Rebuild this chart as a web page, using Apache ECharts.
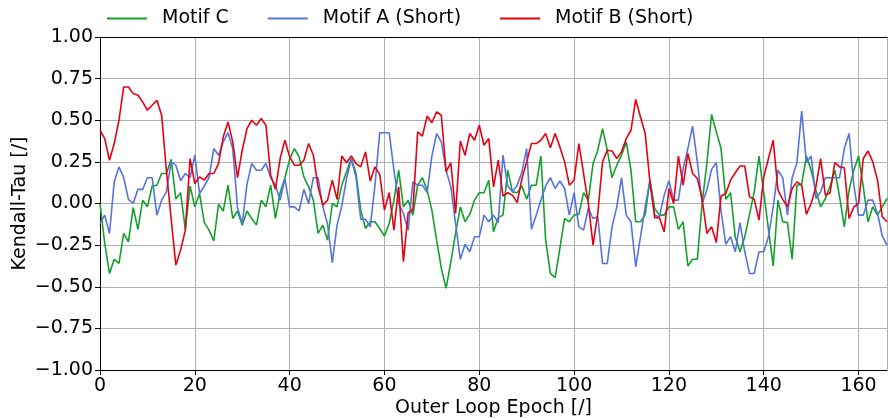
<!DOCTYPE html>
<html>
<head>
<meta charset="utf-8">
<script src="https://cdn.jsdelivr.net/npm/echarts@6/dist/echarts.min.js"></script>
<style>
  html, body { margin: 0; padding: 0; background: #fff; }
  #chart { width: 888px; height: 418px; }
</style>
</head>
<body>
<div id="chart"></div>
<script>
// Kendall-Tau per outer loop epoch, three motifs
const seriesNames = ['Motif C', 'Motif A (Short)', 'Motif B (Short)']
const seriesColors = ['#14a02c', '#5673e0', '#e60012']
const xTicks = [0, 20, 40, 60, 80, 100, 120, 140, 160]
const yTicks = [-1, -0.75, -0.5, -0.25, 0, 0.25, 0.5, 0.75, 1]

// Motif C (green)
const motifC = [
  0.0, -0.24, -0.42, -0.335, -0.36, -0.18, -0.23, -0.025, -0.155, 0.02,
  -0.02, 0.105, 0.11, 0.18, 0.18, 0.265, 0.027, 0.065, -0.155, 0.105,
  -0.02, 0.06, -0.115, -0.16, -0.225, -0.005, -0.045, 0.11, -0.09, -0.045,
  -0.13, -0.045, -0.09, -0.13, 0.02, -0.02, 0.11, -0.09, 0.065, 0.155,
  0.265, 0.33, 0.28, 0.16, 0.10, 0.02, -0.18, -0.13, -0.22, 0.0,
  -0.02, 0.11, 0.19, 0.27, 0.18, -0.04, -0.15, -0.11, -0.11, -0.15,
  -0.195, -0.12, 0.02, 0.20, -0.02, 0.02, -0.07, 0.11, 0.155, 0.08,
  -0.04, -0.22, -0.39, -0.51, -0.35, -0.18, -0.02, -0.11, -0.065, 0.02,
  0.065, 0.065, 0.14, -0.17, -0.085, -0.07, 0.20, 0.07, 0.065, 0.105,
  0.025, 0.11, 0.11, 0.285, -0.22, -0.42, -0.445, -0.27, -0.09, -0.11,
  -0.07, -0.065, 0.065, 0.02, 0.24, 0.32, 0.45, 0.32, 0.155, 0.23,
  0.29, 0.37, 0.20, -0.11, -0.11, -0.065, 0.14, -0.03, -0.07, -0.07,
  -0.02, -0.02, -0.155, -0.11, -0.375, -0.335, -0.335, 0.0, 0.24, 0.535,
  0.43, 0.33, 0.025, 0.065, -0.20, -0.29, -0.20, -0.065, 0.07, 0.285,
  0.065, -0.155, -0.375, 0.02, -0.11, -0.115, -0.335, 0.11, 0.115, 0.285,
  0.20, 0.08, -0.02, 0.03, 0.105, 0.20, 0.04, -0.14, 0.08, 0.20,
  0.285, 0.10, -0.11, -0.02, -0.07, -0.02, 0.03
]

// Motif A (Short) (blue)
const motifA = [
  -0.12, -0.07, -0.18, 0.13, 0.22, 0.155, 0.025, 0.0, 0.085, 0.085,
  0.155, 0.155, -0.07, 0.02, 0.07, 0.25, 0.23, 0.137, 0.18, 0.155,
  0.29, 0.06, 0.105, 0.155, 0.33, 0.29, 0.37, 0.425, 0.33, -0.025,
  -0.12, 0.115, 0.24, 0.20, 0.20, 0.24, 0.155, 0.11, 0.02, 0.15,
  -0.02, -0.02, -0.045, 0.085, 0.0, 0.155, 0.155, -0.02, -0.125, -0.355,
  -0.13, -0.015, 0.15, 0.265, 0.16, -0.095, -0.095, -0.14, 0.11, 0.425,
  0.425, 0.425, 0.20, 0.0, -0.06, -0.16, 0.13, 0.11, 0.11, 0.065,
  0.285, 0.42, 0.37, 0.20, 0.10, -0.12, -0.335, -0.245, -0.29, -0.20,
  -0.20, -0.07, -0.11, -0.07, -0.115, 0.29, 0.105, 0.07, 0.11, 0.19,
  0.33, -0.155, -0.07, 0.02, 0.105, 0.155, 0.09, 0.135, 0.09, -0.07,
  0.065, -0.14, -0.16, -0.03, -0.09, -0.08, -0.36, -0.36, -0.14, -0.02,
  0.155, -0.07, -0.11, -0.38, -0.20, -0.02, 0.14, -0.07, -0.08, 0.05,
  0.137, 0.02, 0.02, 0.21, 0.33, 0.465, 0.25, 0.0, 0.08, 0.205,
  0.245, -0.045, -0.245, -0.20, -0.29, -0.115, -0.29, -0.42, -0.42, -0.29,
  -0.29, -0.20, -0.02, 0.20, 0.155, -0.07, 0.155, 0.245, 0.555, 0.245,
  0.285, 0.03, 0.07, 0.155, 0.155, 0.155, 0.155, 0.33, 0.42, 0.11,
  -0.07, -0.07, 0.02, 0.02, -0.06, -0.195, -0.25
]

// Motif B (Short) (red)
const motifB = [
  0.44, 0.39, 0.26, 0.36, 0.50, 0.70, 0.70, 0.66, 0.65, 0.61,
  0.56, 0.59, 0.62, 0.53, 0.20, -0.09, -0.37, -0.28, -0.16, 0.27,
  0.12, 0.16, 0.14, 0.18, 0.18, 0.24, 0.40, 0.49, 0.37, 0.155,
  0.32, 0.45, 0.50, 0.47, 0.51, 0.47, 0.17, 0.085, 0.27, 0.38,
  0.28, 0.23, 0.23, 0.26, 0.36, 0.29, 0.10, -0.01, 0.02, 0.14,
  0.025, 0.285, 0.245, 0.285, 0.24, 0.22, 0.31, 0.135, 0.22, 0.175,
  -0.04, 0.065, -0.16, 0.10, -0.35, -0.055, -0.04, 0.43, 0.405, 0.525,
  0.485, 0.55, 0.53, 0.19, 0.245, -0.06, 0.375, 0.29, 0.42, 0.38,
  0.47, 0.35, 0.39, 0.10, 0.26, 0.045, 0.065, 0.05, 0.005, 0.15,
  0.25, 0.36, 0.36, 0.38, 0.42, 0.335, 0.42, 0.34, 0.25, 0.11,
  0.14, 0.36, 0.18, 0.0, -0.25, -0.06, 0.25, 0.32, 0.315, 0.27,
  0.31, 0.39, 0.44, 0.625, 0.52, 0.42, 0.13, -0.085, -0.085, -0.17,
  0.09, 0.0, 0.285, 0.11, 0.30, 0.18, 0.15, 0.03, -0.18, -0.14,
  -0.235, 0.045, 0.06, 0.14, 0.185, 0.225, 0.225, 0.04, 0.025, -0.10,
  0.16, 0.27, 0.38, 0.08, 0.025, -0.02, 0.09, 0.13, 0.11, -0.065,
  0.0, 0.10, 0.27, 0.05, 0.065, 0.245, 0.22, 0.215, -0.09, -0.02,
  0.0, 0.27, 0.315, 0.25, 0.14, -0.08, -0.11
]

const FONT = 'DejaVu Sans'
const chart = echarts.init(document.getElementById('chart'))

// epoch index -> [x, y]
const toPairs = arr => arr.map((v, i) => [i, v])

const option = {
  animation: false,
  textStyle: { fontFamily: FONT },
  legend: {
    data: seriesNames,
    left: 102,
    top: 4,
    icon: 'rect',
    itemWidth: 40,
    itemHeight: 2,
    itemGap: 39,
    textStyle: { fontFamily: FONT, fontSize: 19, color: '#000', padding: [0, 0, 0, 10] },
  },
  grid: {
    left: 100,
    right: 1,
    top: 37,
    bottom: 48,
    containLabel: false,
    outerBoundsMode: 'none',
  },
  xAxis: [
    {
      type: 'value',
      min: 0,
      max: 166,
      interval: 20,
      name: 'Outer Loop Epoch [/]',
      nameLocation: 'middle',
      nameGap: 29,
      nameMoveOverlap: false,
      nameTextStyle: { fontFamily: FONT, fontSize: 19, color: '#000' },
      axisLine: { show: true, onZero: false, lineStyle: { color: '#000', width: 1 } },
      axisTick: { show: true, length: 5, lineStyle: { color: '#000' } },
      axisLabel: {
        fontFamily: FONT, fontSize: 19, color: '#000', margin: 7,
        showMaxLabel: false,
        formatter: v => (xTicks.includes(v) ? String(v) : ''),
      },
      splitLine: { show: true, lineStyle: { color: '#b0b0b0', width: 1 } },
    },
    {
      type: 'value',
      position: 'top',
      min: 0,
      max: 166,
      axisLine: { show: true, onZero: false, lineStyle: { color: '#000', width: 1 } },
      axisTick: { show: false },
      axisLabel: { show: false },
      splitLine: { show: false },
    },
  ],
  yAxis: {
    type: 'value',
    min: yTicks[0],
    max: yTicks[yTicks.length - 1],
    interval: 0.25,
    name: 'Kendall-Tau [/]',
    nameLocation: 'middle',
    nameGap: 70,
    nameMoveOverlap: false,
    nameTextStyle: { fontFamily: FONT, fontSize: 19, color: '#000' },
    axisLine: { show: true, onZero: false, lineStyle: { color: '#000', width: 1 } },
    axisTick: { show: true, length: 5, lineStyle: { color: '#000' } },
    axisLabel: {
      fontFamily: FONT, fontSize: 19, color: '#000', margin: 7,
      formatter: v => v.toFixed(2).replace('-', '\u2212'),
    },
    splitLine: { show: true, lineStyle: { color: '#b0b0b0', width: 1 } },
  },
  series: [motifC, motifA, motifB].map((arr, k) => ({
    name: seriesNames[k],
    type: 'line',
    xAxisIndex: 0,
    data: toPairs(arr),
    showSymbol: false,
    symbol: 'none',
    lineStyle: { color: seriesColors[k], width: 1.6 },
    itemStyle: { color: seriesColors[k] },
  })),
}

chart.setOption(option)
</script>
</body>
</html>
